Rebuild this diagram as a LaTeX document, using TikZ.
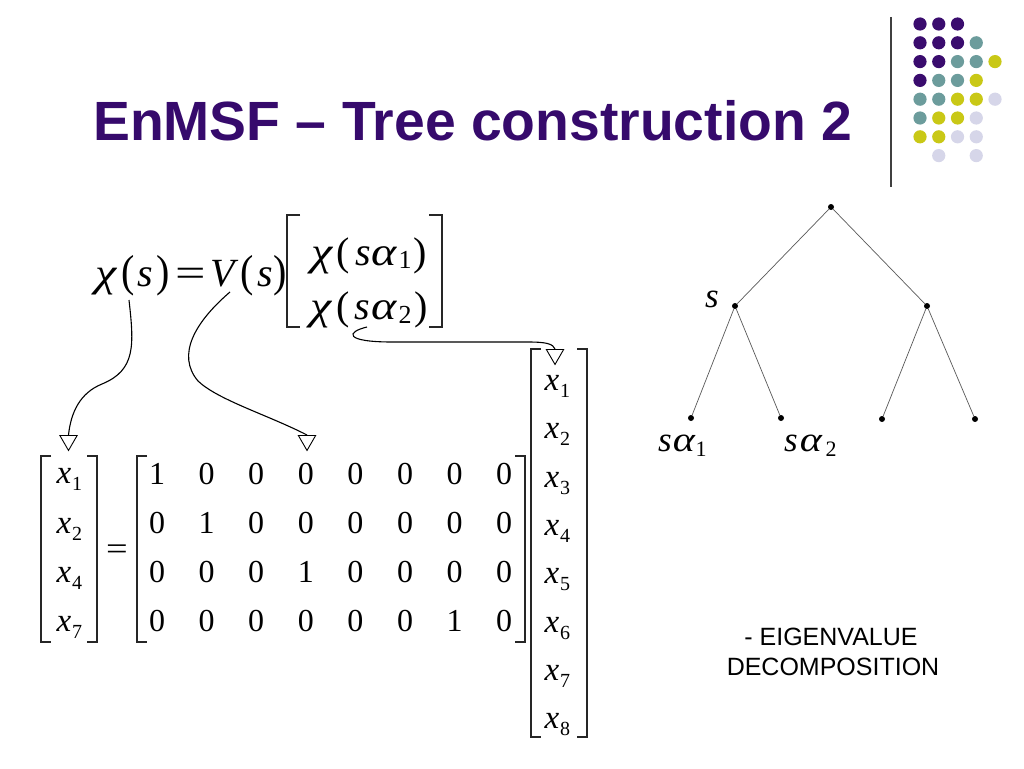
\documentclass[tikz,border=0pt]{standalone}
\usepackage{fontspec}
\usepackage{graphicx}
\setmainfont{Liberation Serif}
\newfontfamily\arialf{Liberation Sans}
\usetikzlibrary{shapes.geometric}
\definecolor{titlec}{HTML}{360A6C}
\definecolor{dpurp}{HTML}{3A0C6E}
\definecolor{dteal}{HTML}{6C9C9C}
\definecolor{dyel}{HTML}{C9C816}
\definecolor{dlav}{HTML}{D6D6E9}
\newcounter{glc}
\newcommand\gly[4][eqi]{\stepcounter{glc}\node[#1] (gl\arabic{glc}) at (#2,#3) {#4};}
\newcommand\chig{\scalebox{1.2}[1]{χ}}
\newcommand\alg{\scalebox{1.2}[1]{α}}
\begin{document}
\begin{tikzpicture}[x=1pt,y=-1pt,
  eq/.style={anchor=base,inner sep=0pt,font=\fontsize{40}{44}\selectfont},
  eqi/.style={anchor=base,inner sep=0pt,font=\fontsize{40}{44}\selectfont\itshape},
  esub/.style={anchor=base,inner sep=0pt,font=\fontsize{26}{28}\selectfont},
  tri/.style={regular polygon,regular polygon sides=3,shape border rotate=180,draw,line width=0.9pt,minimum size=20pt,inner sep=0pt},
  tl/.style={anchor=base,inner sep=0pt,font=\fontsize{35}{38}\selectfont\itshape},
  tsub/.style={anchor=base,inner sep=0pt,font=\fontsize{22}{24}\selectfont},
  mat/.style={anchor=base,inner sep=0pt,font=\fontsize{32}{34}\selectfont},
  mati/.style={anchor=base,inner sep=0pt,font=\fontsize{33}{35}\selectfont\itshape},
  msub/.style={anchor=base,inner sep=0pt,font=\fontsize{20}{22}\selectfont},
  brk/.style={line width=1.4pt,black!85},
  conn/.style={line width=1.1pt,black},
  tdot/.style={circle,fill=black,inner sep=0pt,minimum size=6pt},
  edge/.style={line width=0.7pt,black!65},
  lab/.style={anchor=base,inner sep=0pt,font=\arialf\fontsize{25}{30}\selectfont}
]
\fill[white] (0,0) rectangle (1024,768);
\useasboundingbox (0,0) rectangle (1024,768);

% title
\node[anchor=base west,inner sep=0pt,text=titlec,font=\arialf\bfseries\fontsize{55.3}{60}\selectfont] (title) at (93,140) {EnMSF – Tree construction 2};

% decorative line and dots
\draw[line width=1.3pt,black!75] (891,17) -- (891,187);
\foreach \c/\r/\col in {0/0/dpurp,1/0/dpurp,2/0/dpurp,
  0/1/dpurp,1/1/dpurp,2/1/dpurp,3/1/dteal,
  0/2/dpurp,1/2/dpurp,2/2/dteal,3/2/dteal,4/2/dyel,
  0/3/dpurp,1/3/dteal,2/3/dteal,3/3/dyel,
  0/4/dteal,1/4/dteal,2/4/dyel,3/4/dyel,4/4/dlav,
  0/5/dteal,1/5/dyel,2/5/dyel,3/5/dlav,
  0/6/dyel,1/6/dyel,2/6/dlav,3/6/dlav,
  1/7/dlav,3/7/dlav}
  \fill[\col] (920+18.75*\c,24+18.8*\r) circle (6.6pt);

% main equation chi(s) = V(s) [ ... ]
\gly{106}{286}{\chig}
\gly[eq]{128}{286}{\scalebox{1}[1.12]{(}}
\gly{145}{286}{s}
\gly[eq]{163}{286}{\scalebox{1}[1.12]{)}}
\gly[eq]{191}{286}{\scalebox{1.35}[1]{=}}
\gly{223}{286}{V}
\gly[eq]{247}{286}{\scalebox{1}[1.12]{(}}
\gly{265}{286}{s}
\gly[eq]{280}{286}{\scalebox{1}[1.12]{)}}
\draw[brk] (300,215) -- (287,215) -- (287,327) -- (300,327);
\draw[brk] (429,215) -- (442,215) -- (442,327) -- (429,327);
% top row
\gly{322}{265}{\chig}
\gly[eq]{343}{265}{(}
\gly{363}{265}{s}
\gly{384}{265}{\alg}
\gly[esub]{405}{268}{1}
\gly[eq]{420}{265}{)}
% bottom row
\gly{321}{319}{\chig}
\gly[eq]{343}{319}{(}
\gly{362}{319}{s}
\gly{384}{319}{\alg}
\gly[esub]{405}{323}{2}
\gly[eq]{421}{319}{)}

% left vector
\draw[brk] (51,456) -- (41,456) -- (41,642) -- (51,642);
\draw[brk] (87,456) -- (97,456) -- (97,642) -- (87,642);
\foreach \i/\y in {1/483,2/533,4/582,7/631}{
  \node[mati] (lv\i) at (64,\y) {x};
  \node[msub] (lvs\i) at (77,\y+7) {\i};
}
\node[mat] (eqs) at (117,559) {\scalebox{1.2}[1]{=}};

% matrix
\draw[brk] (147,456) -- (137,456) -- (137,642) -- (147,642);
\draw[brk] (515,456) -- (525,456) -- (525,642) -- (515,642);
\foreach \r/\y/\vals in {1/484/{1,0,0,0,0,0,0,0},2/533/{0,1,0,0,0,0,0,0},3/582/{0,0,0,1,0,0,0,0},4/631/{0,0,0,0,0,0,1,0}}{
  \foreach \v [count=\c] in \vals {
    \node[mat] (m\r\c) at (157+49.6*\c-49.6,\y) {\v};
  }
}

% right vector
\draw[brk] (541,349) -- (531,349) -- (531,737) -- (541,737);
\draw[brk] (577,349) -- (587,349) -- (587,737) -- (577,737);
\foreach \i/\y in {1/390,2/438,3/487,4/535,5/583,6/632,7/680,8/728}{
  \node[mati] (rv\i) at (552,\y) {x};
  \node[msub] (rvs\i) at (565,\y+7) {\i};
}

% arrowheads and connectors
\node[tri,anchor=north] (t1) at (68.5,435) {};
\node[tri,anchor=north] (t2) at (307,435) {};
\node[tri,anchor=north] (t3) at (555,349) {};
\coordinate (c1) at (129,300);
\coordinate (c2) at (230,292);
\coordinate (c3) at (367,327);
\draw[conn] (c1) .. controls (134,345) and (136,370) .. (102,384) .. controls (80,393) and (71,412) .. (t1.north);
\draw[conn] (c2) .. controls (195,322) and (176,355) .. (198,381) .. controls (218,400) and (268,415) .. (t2.north);
\draw[conn] (c3) .. controls (346,332) and (344,342) .. (392,342) -- (528,342) .. controls (547,342) and (553,344) .. (t3.north);

% tree
\node[tdot] (root) at (831,207) {};
\node[tdot] (ns) at (735,306) {};
\node[tdot] (nr) at (927,306) {};
\node[tdot] (l1) at (691,418) {};
\node[tdot] (l2) at (781,418) {};
\node[tdot] (l3) at (882,419) {};
\node[tdot] (l4) at (975,419) {};
\draw[edge] (root) -- (ns);
\draw[edge] (root) -- (nr);
\draw[edge] (ns) -- (l1);
\draw[edge] (ns) -- (l2);
\draw[edge] (nr) -- (l3);
\draw[edge] (nr) -- (l4);
\gly[tl]{712}{307}{s}
\gly[tl]{665}{451}{s}
\gly[tl]{684}{451}{\alg}
\gly[tsub]{701}{456}{1}
\gly[tl]{791}{451}{s}
\gly[tl]{811}{451}{\alg}
\gly[tsub]{831}{456}{2}

% label
\node[lab] (eig1) at (831,645) {- EIGENVALUE};
\node[lab] (eig2) at (833,675) {DECOMPOSITION};
\end{tikzpicture}
\end{document}
